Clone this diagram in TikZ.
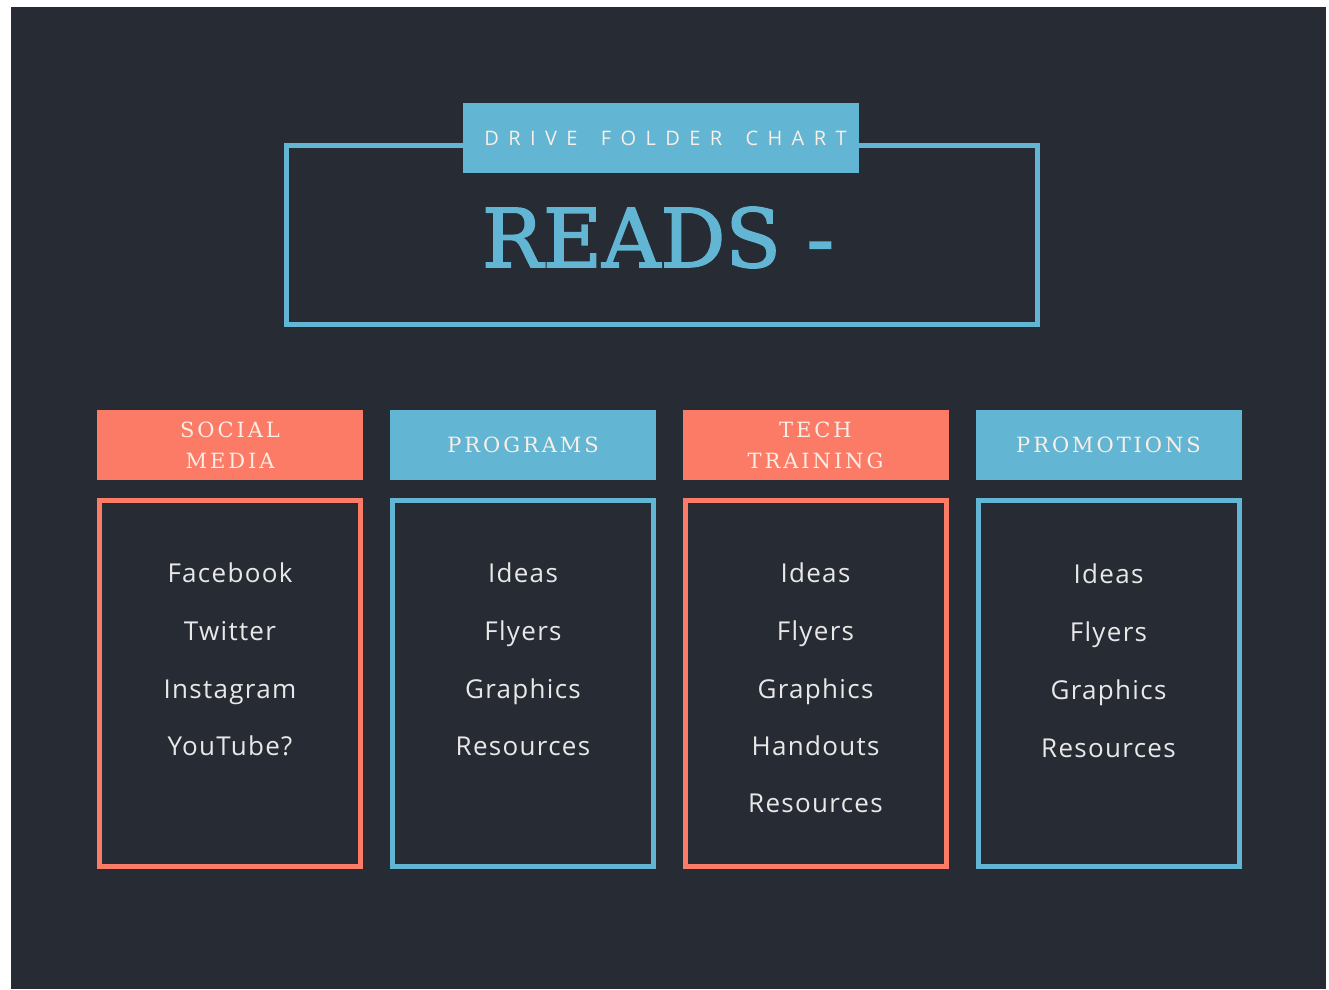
\documentclass[tikz,border=0pt]{standalone}
\usepackage{fontspec}
\setmainfont{Open Sans}
\newfontfamily\slabfont[FakeBold=2]{DejaVu Serif}
\newfontfamily\slabwide[LetterSpace=14]{DejaVu Serif}
\newfontfamily\itemfont[LetterSpace=5]{Open Sans}
\newfontfamily\tagfont[LetterSpace=47,WordSpace=1.6]{Open Sans}

\definecolor{bgdark}{HTML}{272B33}
\definecolor{chartblue}{HTML}{62B5D3}
\definecolor{chartcoral}{HTML}{FC7B66}
\definecolor{itemgray}{HTML}{E8E8E8}
\definecolor{headlight}{HTML}{FBEEE6}

\tikzset{
  headbox/.style={minimum width=266pt,minimum height=70pt,inner sep=0pt,align=center,
    font=\slabwide\fontsize{21}{31}\selectfont,text=headlight},
  framebox/.style={draw,line width=5pt,minimum width=261pt,minimum height=366pt,inner sep=0pt},
  item/.style={anchor=base,font=\itemfont\fontsize{26}{30}\selectfont,text=itemgray},
}

\begin{document}
\begin{tikzpicture}[x=1pt,y=-1pt]
            \useasboundingbox (0,0) rectangle (1329,989);
            \fill[white] (0,0) rectangle (1329,989);
            \fill[bgdark] (11,7) rectangle (1326,989);

            % title
            \node[draw=chartblue,line width=5pt,minimum width=751pt,minimum height=179pt] (titleframe) at (661.5,235) {};
            \node[fill=chartblue,minimum width=396pt,minimum height=70pt,inner sep=0pt,
                  font=\tagfont\fontsize{20}{24}\selectfont,text=headlight] (tag) at (661,138) {\hspace{9pt}DRIVE FOLDER CHART};
            \node[anchor=base,text=chartblue,font=\slabfont\fontsize{81}{90}\selectfont] (reads) at (658,267) {READS -};

            % headers
            \node[headbox,fill=chartcoral] (social) at (230,445) {SOCIAL\\MEDIA};
            \node[headbox,fill=chartblue] (programs) at (523,445) {PROGRAMS};
            \node[headbox,fill=chartcoral] (tech) at (815.5,445) {TECH\\TRAINING};
            \node[headbox,fill=chartblue] (promos) at (1108.5,445) {PROMOTIONS};

            % frames
            \node[framebox,draw=chartcoral] (socialbox) at (230,683.5) {};
            \node[framebox,draw=chartblue] (programsbox) at (523,683.5) {};
            \node[framebox,draw=chartcoral] (techbox) at (815.5,683.5) {};
            \node[framebox,draw=chartblue] (promosbox) at (1108.5,683.5) {};

            % items
            \node[item] (s1) at (230,582) {Facebook};
            \node[item] (s2) at (230,640) {Twitter};
            \node[item] (s3) at (230,698) {Instagram};
            \node[item] (s4) at (230,755) {YouTube?};

            \node[item] (p1) at (523,582) {Ideas};
            \node[item] (p2) at (523,640) {Flyers};
            \node[item] (p3) at (523,698) {Graphics};
            \node[item] (p4) at (523,755) {Resources};

            \node[item] (t1) at (815.5,582) {Ideas};
            \node[item] (t2) at (815.5,640) {Flyers};
            \node[item] (t3) at (815.5,698) {Graphics};
            \node[item] (t4) at (815.5,755) {Handouts};
            \node[item] (t5) at (815.5,812) {Resources};

            \node[item] (m1) at (1108.5,583) {Ideas};
            \node[item] (m2) at (1108.5,641) {Flyers};
            \node[item] (m3) at (1108.5,699) {Graphics};
            \node[item] (m4) at (1108.5,757) {Resources};
\end{tikzpicture}
\end{document}
